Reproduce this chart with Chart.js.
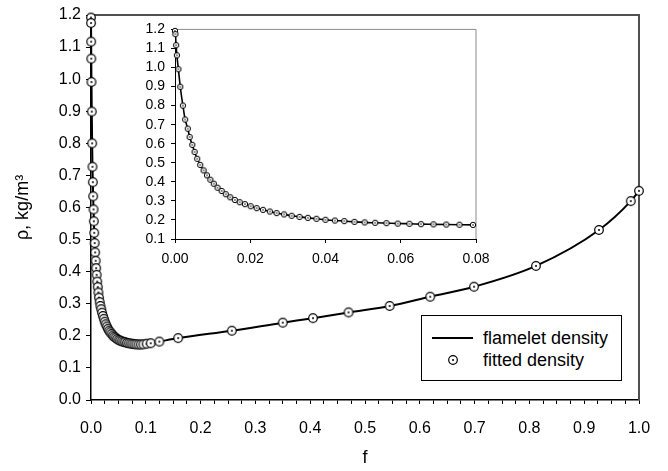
<!DOCTYPE html>
<html>
<head>
<meta charset="utf-8">
<script src="https://cdn.jsdelivr.net/npm/chart.js@4.4.0/dist/chart.umd.min.js"></script>
<style>
  body { margin: 0; background: #fff; }
  #wrap { position: relative; width: 668px; height: 471px; font-family: "Liberation Sans", Arial, sans-serif; }
  #main { position: absolute; left: 0; top: 0; }
  #inset { position: absolute; left: 120px; top: 15px; }
  #legend { position: absolute; left: 421px; top: 315px; width: 199px; height: 64px; border: 1px solid #000; background: #fff; font-size: 18px; }
  .row { position: absolute; left: 0; width: 199px; height: 22px; line-height: 22px; }
  .row span { position: absolute; left: 61px; top: 0; white-space: nowrap; }
  .swatch-line { position: absolute; left: 10px; top: 10px; width: 41px; height: 2px; background: #000; }
  .row canvas { position: absolute; left: 25px; top: 5px; }
</style>
</head>
<body>
<div id="wrap">
  <canvas id="main" width="668" height="471"></canvas>
  <canvas id="inset" width="370" height="265"></canvas>
  <div id="legend"></div>
</div>
<script>
// mixture fraction f and density rho (kg/m3)
const fValues = [
  0, 0.0001, 0.0003, 0.0005, 0.0009, 0.0014, 0.0021, 0.0027, 0.0034, 0.0039,
  0.0046, 0.0052, 0.0059, 0.0067, 0.0076, 0.0085, 0.0094, 0.0103, 0.0113, 0.0124,
  0.0135, 0.0147, 0.0159, 0.0172, 0.0186, 0.0201, 0.0217, 0.0234, 0.0252, 0.0270,
  0.0290, 0.0310, 0.0331, 0.0353, 0.0376, 0.0400, 0.0425, 0.0450, 0.0477, 0.0504,
  0.0532, 0.0562, 0.0592, 0.0623, 0.0654, 0.0687, 0.0721, 0.0756, 0.0792, 0.0829,
  0.0868, 0.0909, 0.0955, 0.1016, 0.109, 0.1247, 0.159, 0.257, 0.35, 0.405,
  0.47, 0.545, 0.619, 0.699, 0.812, 0.927, 0.985, 1.0
];
const rhoValues = [
  1.192, 1.175, 1.117, 1.064, 0.991, 0.899, 0.800, 0.727, 0.679, 0.635,
  0.594, 0.557, 0.521, 0.489, 0.460, 0.434, 0.411, 0.390, 0.369, 0.352,
  0.335, 0.319, 0.305, 0.293, 0.283, 0.272, 0.262, 0.253, 0.244, 0.236,
  0.229, 0.222, 0.216, 0.211, 0.206, 0.201, 0.197, 0.194, 0.190, 0.187,
  0.185, 0.183, 0.181, 0.180, 0.178, 0.177, 0.176, 0.175, 0.174, 0.1735,
  0.173, 0.173, 0.1735, 0.1755, 0.177, 0.182, 0.193, 0.216, 0.241, 0.255,
  0.273, 0.293, 0.322, 0.353, 0.418, 0.53, 0.62, 0.652
];
const seriesNames = ['flamelet density', 'fitted density'];

const mainX = { min: 0, max: 1, step: 0.025, labelStep: 0.1, digits: 1 };
const mainY = { min: 0, max: 1.2, step: 0.1, digits: 1 };
const insetX = { min: 0, max: 0.08, step: 0.02, digits: 2 };
const insetY = { min: 0.1, max: 1.2, step: 0.1, digits: 1 };

Chart.defaults.font.family = '"Liberation Sans", Arial, sans-serif';
Chart.defaults.color = '#000';
Chart.defaults.animation = false;

function makeMarker(size, r, dot, lw) {
  const c = document.createElement('canvas');
  c.width = size; c.height = size;
  const g = c.getContext('2d');
  g.beginPath();
  g.arc(size / 2, size / 2, r, 0, Math.PI * 2);
  g.fillStyle = '#fff';
  g.fill();
  g.lineWidth = lw;
  g.strokeStyle = '#000';
  g.stroke();
  if (dot) {
    g.beginPath();
    g.arc(size / 2, size / 2, dot, 0, Math.PI * 2);
    g.fillStyle = '#000';
    g.fill();
  }
  return c;
}

function onStep(v, step) {
  return Math.abs(v / step - Math.round(v / step)) < 1e-6;
}

// top and right edges of the plot box
const framePlugin = {
  id: 'frame',
  beforeDatasetsDraw(chart, args, opts) {
    const { ctx, chartArea: a } = chart;
    ctx.save();
    ctx.strokeStyle = opts.color;
    ctx.lineWidth = opts.width;
    ctx.beginPath();
    ctx.moveTo(a.left, a.top);
    ctx.lineTo(a.right, a.top);
    ctx.lineTo(a.right, a.bottom);
    ctx.stroke();
    ctx.restore();
  }
};

function toPoints(maxF) {
  const pts = [];
  fValues.forEach((f, i) => {
    if (f <= maxF + 1e-9) pts.push({ x: f, y: rhoValues[i] });
  });
  return pts;
}

const mainMarker = makeMarker(12, 4.3, 1, 1.2);
const insetMarker = makeMarker(8, 2.7, 0.8, 1);

const mainChart = new Chart(document.getElementById('main'), {
  type: 'scatter',
  data: {
    datasets: [
      {
        label: seriesNames[0],
        data: toPoints(mainX.max),
        showLine: true,
        borderColor: '#000',
        borderWidth: 2,
        pointRadius: 0,
        cubicInterpolationMode: 'monotone',
        order: 1
      },
      {
        label: seriesNames[1],
        data: toPoints(mainX.max),
        showLine: false,
        pointStyle: mainMarker,
        pointRadius: 4,
        clip: false,
        order: 0
      }
    ]
  },
  options: {
    responsive: false,
    layout: { padding: { top: 15, right: 29, left: 0, bottom: 0 } },
    plugins: {
      legend: { display: false },
      tooltip: { enabled: false },
      frame: { color: '#505050', width: 2 }
    },
    scales: {
      x: {
        type: 'linear',
        min: mainX.min,
        max: mainX.max,
        afterFit(s) { s.height = 71; s.paddingLeft = 0; s.paddingRight = 0; },
        ticks: {
          stepSize: mainX.step,
          autoSkip: false,
          maxRotation: 0,
          padding: 15,
          font: { size: 16 },
          callback: v => onStep(v, mainX.labelStep) ? v.toFixed(mainX.digits) : ''
        },
        grid: { drawOnChartArea: false, drawTicks: true, tickLength: 4, color: '#000' },
        border: { color: '#000', width: 1.5 },
        title: { display: true, text: 'f', font: { size: 18 }, padding: { top: 0, bottom: 2 } }
      },
      y: {
        type: 'linear',
        min: mainY.min,
        max: mainY.max,
        afterFit(s) { s.width = 91; },
        ticks: {
          stepSize: mainY.step,
          autoSkip: false,
          padding: 5,
          font: { size: 16 },
          callback: v => v.toFixed(mainY.digits)
        },
        grid: { drawOnChartArea: false, drawTicks: true, tickLength: 5, color: '#000' },
        border: { color: '#000', width: 1.5 },
        title: { display: true, text: 'ρ, kg/m³', font: { size: 18 }, padding: { top: 12, bottom: 0 } }
      }
    }
  },
  plugins: [framePlugin]
});

new Chart(document.getElementById('inset'), {
  type: 'scatter',
  data: {
    datasets: [
      {
        label: seriesNames[0],
        data: toPoints(insetX.max),
        showLine: true,
        borderColor: '#000',
        borderWidth: 1.6,
        pointRadius: 0,
        cubicInterpolationMode: 'monotone',
        order: 1
      },
      {
        label: seriesNames[1],
        data: toPoints(insetX.max),
        showLine: false,
        pointStyle: insetMarker,
        pointRadius: 3,
        clip: false,
        order: 0
      }
    ]
  },
  options: {
    responsive: false,
    layout: { padding: { top: 12, right: 14, left: 0, bottom: 0 } },
    plugins: {
      legend: { display: false },
      tooltip: { enabled: false },
      frame: { color: '#8a8a8a', width: 1 }
    },
    scales: {
      x: {
        type: 'linear',
        min: insetX.min,
        max: insetX.max,
        afterFit(s) { s.height = 41; s.paddingLeft = 0; s.paddingRight = 0; },
        ticks: {
          stepSize: insetX.step,
          autoSkip: false,
          maxRotation: 0,
          padding: 8,
          font: { size: 14 },
          callback: v => v.toFixed(insetX.digits)
        },
        grid: { drawOnChartArea: false, drawTicks: true, tickLength: 4, color: '#000' },
        border: { color: '#000', width: 1 }
      },
      y: {
        type: 'linear',
        min: insetY.min,
        max: insetY.max,
        afterFit(s) { s.width = 55; },
        ticks: {
          stepSize: insetY.step,
          autoSkip: false,
          padding: 6,
          font: { size: 14 },
          callback: v => v.toFixed(insetY.digits)
        },
        grid: { drawOnChartArea: false, drawTicks: true, tickLength: 4, color: '#000' },
        border: { color: '#000', width: 1 }
      }
    }
  },
  plugins: [framePlugin]
});

// legend box, built from the main chart's datasets
const legendEl = document.getElementById('legend');
mainChart.data.datasets.forEach((ds, i) => {
  const row = document.createElement('div');
  row.className = 'row';
  row.style.top = (11 + i * 22) + 'px';
  if (ds.showLine) {
    const sw = document.createElement('div');
    sw.className = 'swatch-line';
    row.appendChild(sw);
  } else {
    row.appendChild(makeMarker(12, 4.3, 1, 1.2));
  }
  const label = document.createElement('span');
  label.textContent = ds.label;
  row.appendChild(label);
  legendEl.appendChild(row);
});
</script>
</body>
</html>
